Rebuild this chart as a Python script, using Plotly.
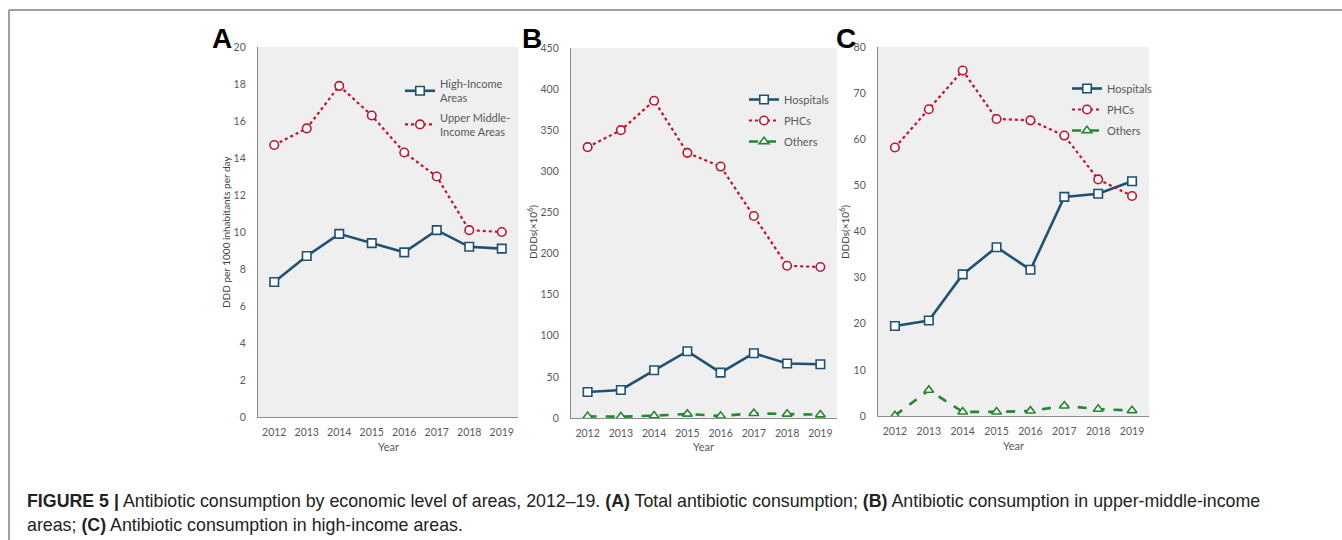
import plotly.graph_objects as go

W, H = 1342, 540

years = ["2012", "2013", "2014", "2015", "2016", "2017", "2018", "2019"]

# Panel A: DDD per 1000 inhabitants per day
a_high = [7.3, 8.7, 9.9, 9.4, 8.9, 10.1, 9.2, 9.1]
a_upper = [14.7, 15.6, 17.9, 16.3, 14.3, 13.0, 10.1, 10.0]

# Panel B: upper-middle-income areas, DDDs (x10^6)
b_hosp = [31.7, 34.1, 58.0, 81.2, 55.2, 78.8, 66.2, 65.4]
b_phc = [329.4, 350.1, 385.9, 322.5, 305.8, 245.7, 185.2, 183.6]
b_other = [2.0, 1.6, 2.8, 4.9, 2.4, 5.7, 4.9, 4.0]

# Panel C: high-income areas, DDDs (x10^6)
c_hosp = [19.5, 20.7, 30.7, 36.6, 31.7, 47.5, 48.2, 50.9]
c_phc = [58.2, 66.5, 74.9, 64.4, 64.1, 60.8, 51.3, 47.7]
c_other = [0.1, 5.6, 0.9, 0.9, 1.1, 2.2, 1.5, 1.2]

BLUE = "#1D5274"
RED = "#C8102E"
GREEN = "#23882F"
TICK = "#595959"
FONT = "Lato, Open Sans, sans-serif"


def px_x(p):
    return p / W


def px_y(p):
    return 1 - p / H


fig = go.Figure()


def add_line(xa, ya, name, vals, kind, legend):
    if kind == "hosp":
        line = dict(color=BLUE, width=2.6)
        marker = dict(symbol="square", size=8.5, color="white",
                      line=dict(color=BLUE, width=1.6))
    elif kind == "phc":
        line = dict(color=RED, width=2.2, dash="dot")
        marker = dict(symbol="circle", size=8.5, color="white",
                      line=dict(color=RED, width=1.6))
    else:
        line = dict(color=GREEN, width=2.6, dash="dash")
        marker = dict(symbol="triangle-up", size=8.5, color="white",
                      line=dict(color=GREEN, width=1.6))
    fig.add_trace(go.Scatter(
        x=years, y=vals, name=name, mode="lines+markers",
        line=line, marker=marker, xaxis=xa, yaxis=ya, legend=legend,
        legendgroup=f"{legend}-{kind}",
    ))


add_line("x", "y", "High-Income<br>Areas", a_high, "hosp", "legend")
add_line("x", "y", "Upper Middle-<br>Income Areas", a_upper, "phc", "legend")
add_line("x2", "y2", "Hospitals", b_hosp, "hosp", "legend2")
add_line("x2", "y2", "PHCs", b_phc, "phc", "legend2")
add_line("x2", "y2", "Others", b_other, "other", "legend2")
add_line("x3", "y3", "Hospitals", c_hosp, "hosp", "legend3")
add_line("x3", "y3", "PHCs", c_phc, "phc", "legend3")
add_line("x3", "y3", "Others", c_other, "other", "legend3")

panels = [
    # (x-axis key, y-axis key, left, right, top, bottom, ymax, dtick)
    ("xaxis", "yaxis", 258, 518, 47, 417, 20, 2),
    ("xaxis2", "yaxis2", 571, 837, 48, 418, 450, 50),
    ("xaxis3", "yaxis3", 878, 1149, 47, 416, 80, 10),
]

axis_common = dict(showgrid=False, zeroline=False, showline=True,
                   linecolor="#8C8C8C", linewidth=1.3, ticks="",
                   automargin=False,
                   tickfont=dict(family=FONT, size=10.5, color=TICK))

layout_axes = {}
for i, (xk, yk, l, r, t, b, ymax, dt) in enumerate(panels):
    anchor_y = "y" if i == 0 else f"y{i + 1}"
    anchor_x = "x" if i == 0 else f"x{i + 1}"
    layout_axes[xk] = dict(axis_common, domain=[px_x(l), px_x(r)],
                           anchor=anchor_y, type="category",
                           range=[-0.5, 7.5], ticklabelstandoff=5)
    layout_axes[yk] = dict(axis_common, domain=[px_y(b), px_y(t)],
                           anchor=anchor_x, range=[0, ymax], dtick=dt,
                           ticklabelstandoff=9)

fig.update_layout(**layout_axes)

legend_common = dict(bgcolor="rgba(0,0,0,0)", borderwidth=0,
                     font=dict(family=FONT, size=11, color=TICK),
                     xanchor="left", yanchor="top", itemclick=False,
                     tracegroupgap=2)
fig.update_layout(
    legend=dict(legend_common, x=px_x(400), y=px_y(70)),
    legend2=dict(legend_common, x=px_x(744), y=px_y(85)),
    legend3=dict(legend_common, x=px_x(1067), y=px_y(74)),
)

# Grey plotting backgrounds and the outer frame
shapes = []
for (_, _, l, r, t, b, _, _) in panels:
    shapes.append(dict(type="rect", xref="paper", yref="paper",
                       x0=px_x(l), x1=px_x(r), y0=px_y(b), y1=px_y(t),
                       fillcolor="#EFEFEF", line=dict(width=0), layer="below"))
shapes.append(dict(type="line", xref="paper", yref="paper",
                   x0=px_x(9), x1=1, y0=px_y(10), y1=px_y(10),
                   line=dict(color="#808080", width=1.5)))
shapes.append(dict(type="line", xref="paper", yref="paper",
                   x0=px_x(9), x1=px_x(9), y0=0, y1=px_y(10),
                   line=dict(color="#808080", width=1.5)))

annotations = []
for letter, cx in [("A", 222), ("B", 532), ("C", 846)]:
    annotations.append(dict(text=f"<b>{letter}</b>", x=px_x(cx), y=px_y(38),
                            xref="paper", yref="paper", showarrow=False,
                            xanchor="center", yanchor="middle",
                            font=dict(family="Liberation Sans, Arial", size=28,
                                      color="black")))

for text, cx in [("DDD per 1000 inhabitants per day", 226),
                 ("DDDs(×10<sup>6</sup>)", 533),
                 ("DDDs(×10<sup>6</sup>)", 845)]:
    annotations.append(dict(text=text, x=px_x(cx), y=px_y(232), xref="paper",
                            yref="paper", showarrow=False, textangle=-90,
                            xanchor="center", yanchor="middle",
                            font=dict(family=FONT, size=10, color="#404040")))

for cx, cy in [(388, 447), (703, 447), (1013, 445)]:
    annotations.append(dict(text="Year", x=px_x(cx), y=px_y(cy), xref="paper",
                            yref="paper", showarrow=False, xanchor="center",
                            yanchor="middle",
                            font=dict(family=FONT, size=11, color=TICK)))

caption1 = ("<b>FIGURE 5 |</b> Antibiotic consumption by economic level of areas, "
            "2012–19. <b>(A)</b> Total antibiotic consumption; <b>(B)</b> "
            "Antibiotic consumption in upper-middle-income")
caption2 = ("areas; <b>(C)</b> Antibiotic consumption in high-income areas.")
for text, cy in [(caption1, 501), (caption2, 525)]:
    annotations.append(dict(text=text, x=px_x(25), y=px_y(cy), xref="paper",
                            yref="paper", showarrow=False, xanchor="left",
                            yanchor="middle", align="left",
                            font=dict(family="Liberation Sans, Arial", size=17.8,
                                      color="#222222")))

fig.update_layout(
    width=W, height=H, margin=dict(l=0, r=0, t=0, b=0, autoexpand=False),
    paper_bgcolor="white", plot_bgcolor="#EFEFEF",
    shapes=shapes, annotations=annotations, showlegend=True,
)

fig.write_html("out.html", config={"displayModeBar": False})
